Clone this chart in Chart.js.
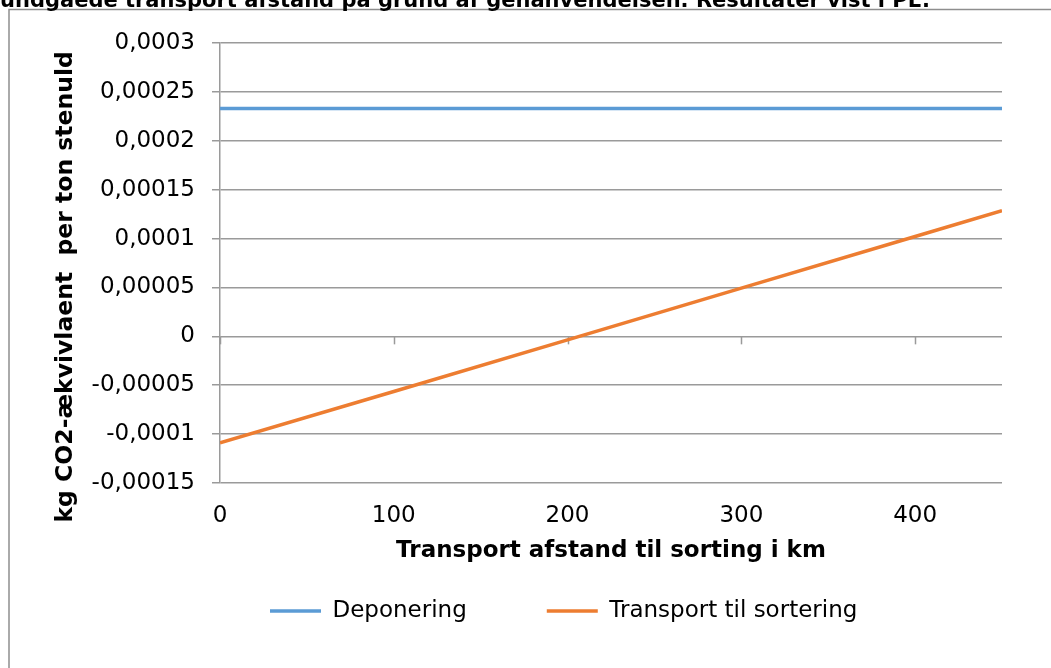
<!DOCTYPE html>
<html>
<head>
<meta charset="utf-8">
<title>Transport afstand til sorting</title>
<script src="https://cdn.jsdelivr.net/npm/chart.js@4.4.1/dist/chart.umd.min.js"></script>
<style>
  html, body { margin: 0; padding: 0; background: #fff; overflow: hidden; }
  #chart { display: block; }
</style>
</head>
<body>
<canvas id="chart" width="1051" height="668"></canvas>
<script>
// transport distance to sorting, km
const distances = [0, 100, 200, 300, 400, 450];
// kg CO2-eq per ton stone wool
const deponering = [0.000233, 0.000233, 0.000233, 0.000233, 0.000233, 0.000233];
const transportTilSortering = [-0.000109, -0.0000564, -0.0000036, 0.0000493, 0.0001021, 0.0001285];
const seriesNames = ["Deponering", "Transport til sortering"];
const yTicks = [-0.00015, -0.0001, -0.00005, 0, 0.00005, 0.0001, 0.00015, 0.0002, 0.00025, 0.0003];
const xTicks = [0, 100, 200, 300, 400];
const captionText = "undgåede transport afstand på grund af genanvendelsen. Resultater vist i PE.";
const xTitle = "Transport afstand til sorting i km";
const yTitle = "kg CO2-ækvivlaent  per ton stenuld ";

const gridGray = "#9a9a9a";
const pairs = (ys) => distances.map((x, i) => ({ x: x, y: ys[i] }));
// danish decimal comma
const fmt = (v) => String(Number(Number(v).toFixed(6))).replace(".", ",");

Chart.defaults.font.family = "'DejaVu Sans', Verdana, sans-serif";
Chart.defaults.color = "#000";

// grey frame of the embedded chart + the cut off caption line above it
const frame = {
    id: "frame",
    beforeDraw(chart) {
        const ctx = chart.ctx;
        ctx.save();
        ctx.fillStyle = "#fff";
        ctx.fillRect(0, 0, chart.width, chart.height);
        ctx.strokeStyle = "#8e8e8e";
        ctx.lineWidth = 1.5;
        ctx.strokeRect(9, 9.5, chart.width + 20, chart.height + 20);
        ctx.fillStyle = "#000";
        ctx.font = "bold 21px 'DejaVu Sans'";
        ctx.textBaseline = "alphabetic";
        ctx.fillText(captionText, 0, 6.5);
        ctx.restore();
    }
};

// small tick marks hanging under the zero line
const zeroTicks = {
    id: "zeroTicks",
    beforeDatasetsDraw(chart) {
        const { ctx, scales } = chart;
        const y0 = scales.y.getPixelForValue(0);
        ctx.save();
        ctx.strokeStyle = gridGray;
        ctx.lineWidth = 1.5;
        scales.x.ticks.forEach((t) => {
            const px = Math.round(scales.x.getPixelForValue(t.value)) + 0.5;
            ctx.beginPath();
            ctx.moveTo(px, y0);
            ctx.lineTo(px, y0 + 8);
            ctx.stroke();
        });
        ctx.restore();
    }
};

// put the legend row where excel had it
const legendSpot = {
    id: "legendSpot",
    afterLayout(chart) {
        const lg = chart.legend;
        const pad = lg.options.labels.padding;
        lg.left = 270 - pad;
        lg.right = chart.width;
        lg.top = 611 - 11.5 - pad;
        lg.bottom = lg.top + pad + 60;
    }
};

new Chart(document.getElementById("chart"), {
    type: "line",
    data: {
        datasets: [
            {
                label: seriesNames[0],
                data: pairs(deponering),
                borderColor: "#5B9BD5",
                backgroundColor: "#5B9BD5",
                borderWidth: 3.5,
                pointRadius: 0,
                tension: 0
            },
            {
                label: seriesNames[1],
                data: pairs(transportTilSortering),
                borderColor: "#ED7D31",
                backgroundColor: "#ED7D31",
                borderWidth: 3.5,
                pointRadius: 0,
                tension: 0
            }
        ]
    },
    options: {
        responsive: false,
        animation: false,
        layout: { padding: { top: 43, right: 49, bottom: 73, left: 10 } },
        plugins: {
            tooltip: { enabled: false },
            legend: {
                position: "bottom",
                align: "start",
                maxHeight: 30,
                labels: {
                    color: "#000",
                    font: { size: 23 },
                    usePointStyle: true,
                    pointStyle: "line",
                    pointStyleWidth: 51,
                    padding: 80
                }
            }
        },
        scales: {
            x: {
                type: "linear",
                min: 0,
                max: 450,
                afterBuildTicks: (s) => { s.ticks = xTicks.map((v) => ({ value: v })); },
                afterFit: (s) => { s.height = 82; },
                grid: { display: false, drawTicks: false },
                border: { display: false },
                ticks: { color: "#000", font: { size: 23 }, padding: 19, maxRotation: 0, autoSkip: false },
                title: {
                    display: true,
                    text: xTitle,
                    color: "#000",
                    font: { size: 23, weight: "bold" },
                    padding: { top: 8, bottom: 0 }
                }
            },
            y: {
                min: -0.00015,
                max: 0.0003,
                afterBuildTicks: (s) => { s.ticks = yTicks.map((v) => ({ value: v })); },
                afterFit: (s) => { s.width = 210; },
                grid: { color: gridGray, lineWidth: 1.5, tickLength: 8 },
                border: { display: true, color: gridGray, width: 1.5 },
                ticks: { color: "#000", font: { size: 23 }, padding: 17, callback: fmt },
                title: {
                    display: true,
                    text: yTitle,
                    align: "end",
                    color: "#000",
                    font: { size: 23.5, weight: "bold" },
                    padding: { top: 42, bottom: 0 }
                }
            }
        }
    },
    plugins: [frame, zeroTicks, legendSpot]
});
</script>
</body>
</html>
